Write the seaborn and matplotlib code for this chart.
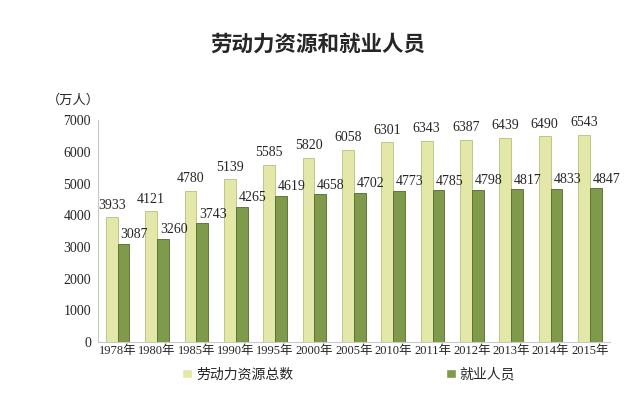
import matplotlib
matplotlib.use("Agg")
import matplotlib.pyplot as plt
import seaborn as sns
import pandas as pd

# %% data
years = ["1978年", "1980年", "1985年", "1990年", "1995年", "2000年", "2005年",
         "2010年", "2011年", "2012年", "2013年", "2014年", "2015年"]
labor_total = [3933, 4121, 4780, 5139, 5585, 5820, 6058, 6301, 6343, 6387, 6439, 6490, 6543]
employed = [3087, 3260, 3743, 4265, 4619, 4658, 4702, 4773, 4785, 4798, 4817, 4833, 4847]
series_names = ["劳动力资源总数", "就业人员"]

df = pd.DataFrame({
    "year": years * 2,
    "value": labor_total + employed,
    "series": [series_names[0]] * len(years) + [series_names[1]] * len(years),
})

# %% style
sns.set_style("white")
plt.rcParams['font.family'] = ['Liberation Serif', 'Noto Sans CJK SC', 'DejaVu Sans']
colors = ["#E3E8A8", "#7E9A4A"]

fig = plt.figure(figsize=(6.24, 3.94), dpi=100)
ax = fig.add_axes([0.157, 0.132, 0.82, 0.563])

sns.barplot(data=df, x="year", y="value", hue="series", palette=colors,
            width=0.6, gap=0.0, ax=ax, legend=True, saturation=1)

# shade bars a little like the 3D original
for cont, edge in zip(ax.containers, ["#B9BF7A", "#4F6A2A"]):
    for p in cont:
        p.set_edgecolor(edge)
        p.set_linewidth(0.6)

# value labels
for p in ax.containers[0]:
    ax.annotate(f"{int(p.get_height())}", (p.get_x() + p.get_width() * 0.5, p.get_height()),
                xytext=(0, 4), textcoords="offset points", ha="center", va="bottom", fontsize=10)
for p in ax.containers[1]:
    ax.annotate(f"{int(p.get_height())}", (p.get_x(), p.get_height()),
                xytext=(2, 2), textcoords="offset points", ha="left", va="bottom", fontsize=10)

ax.set_ylim(0, 7000)
ax.set_yticks(range(0, 7001, 1000))
ax.set_xlim(-0.5, len(years) - 0.5)
ax.set_xlabel("")
ax.set_ylabel("")
ax.tick_params(axis="both", labelsize=10, length=3, color="#BBBBBB", pad=2)
ax.tick_params(axis="x", length=0, labelsize=9)
for s in ["top", "right"]:
    ax.spines[s].set_visible(False)
for s in ["left", "bottom"]:
    ax.spines[s].set_color("#C8C8C8")
    ax.spines[s].set_linewidth(0.8)

ax.legend(loc="upper center", bbox_to_anchor=(0.49, -0.06), ncol=2, frameon=False,
          fontsize=10, handlelength=0.7, handleheight=0.7, handletextpad=0.3,
          columnspacing=11)

fig.text(0.51, 0.885, "劳动力资源和就业人员", ha="center", va="center",
         fontsize=15.5, fontweight="bold")
fig.text(0.075, 0.745, "（万人）", ha="left", va="center", fontsize=9.5)

fig.savefig("out.png", dpi=100)
